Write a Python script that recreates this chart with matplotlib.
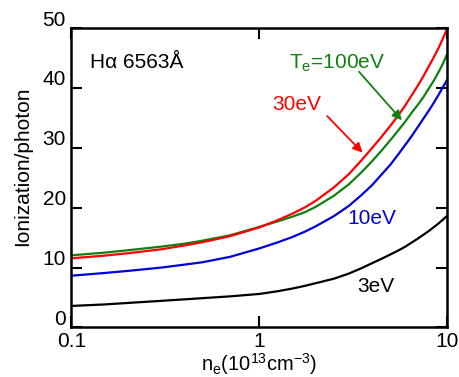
import matplotlib
matplotlib.use('Agg')
import matplotlib.pyplot as plt
import matplotlib.transforms as mtransforms

plt.rcParams['font.family'] = ['Liberation Sans', 'DejaVu Sans']

# Daten
ne = [0.1, 0.15, 0.2, 0.3, 0.4, 0.5, 0.7, 1, 1.25, 1.5, 1.75, 2, 2.5, 3, 3.5, 4,
      4.5, 5, 5.5, 6, 6.5, 7, 7.5, 8, 8.5, 9, 9.5, 10]
te_3 = [3.6, 3.85, 4.1, 4.45, 4.7, 4.9, 5.2, 5.6, 6.05, 6.5, 6.95, 7.4, 8.15, 9.0, 9.9, 10.75,
        11.5, 12.2, 12.85, 13.5, 14.2, 14.85, 15.5, 16.1, 16.75, 17.35, 18.0, 18.6]
te_10 = [8.65, 9.1, 9.45, 10.0, 10.5, 10.9, 11.8, 13.2, 14.2, 15.1, 16.0, 16.9, 18.6, 20.3, 22.1, 23.8,
         25.6, 27.2, 28.9, 30.5, 32.0, 33.5, 34.9, 36.2, 37.5, 38.8, 40.1, 41.3]
te_30 = [11.55, 12.0, 12.4, 13.05, 13.7, 14.25, 15.25, 16.7, 17.9, 19.0, 20.05, 21.15, 23.4, 25.6, 27.9, 30.0,
         31.9, 33.7, 35.4, 37.1, 38.8, 40.4, 42.0, 43.6, 45.1, 46.6, 48.2, 49.8]
te_100 = [12.05, 12.5, 12.9, 13.5, 14.0, 14.5, 15.4, 16.8, 17.7, 18.5, 19.25, 20.15, 22.0, 23.9, 25.9, 27.8,
          29.6, 31.3, 32.9, 34.4, 35.9, 37.2, 38.5, 39.9, 41.2, 42.6, 44.0, 45.6]

fig = plt.figure(figsize=(4.6, 3.77), dpi=100)
ax = fig.add_axes([0.1554, 0.1313, 0.8163, 0.7944])

ax.plot(ne, te_3, color='black', lw=1.6)
ax.plot(ne, te_10, color='#0000dd', lw=1.6)
ax.plot(ne, te_100, color='#108010', lw=1.6)
ax.plot(ne, te_30, color='#ff0000', lw=1.6)

ax.set_xscale('log')
ax.set_xlim(0.1, 10)
ax.set_ylim(0, 50)
ax.set_xticks([0.1, 1, 10])
ax.set_xticklabels(['0.1', '1', '10'])
ax.xaxis.set_minor_locator(matplotlib.ticker.NullLocator())
ax.set_yticks([0, 10, 20, 30, 40, 50])

fs = 15
ax.tick_params(direction='in', length=8, width=1.5, labelsize=fs,
               top=True, right=True, pad=4)
ax.tick_params(axis='x', pad=3)
for s in ax.spines.values():
    s.set_linewidth(1.8)

# y-Beschriftungen etwas nach oben verschoben wie im Original
offset = mtransforms.ScaledTranslation(0, 0.1, fig.dpi_scale_trans)
for lab in ax.get_yticklabels():
    lab.set_transform(lab.get_transform() + offset)

ax.set_ylabel('Ionization/photon', fontsize=fs)
ax.yaxis.set_label_coords(-0.105, 0.54)
ax.set_xlabel(r'$\mathregular{n_e(10^{13}cm^{-3})}$', fontsize=14.5, labelpad=0)

ax.text(0.05, 0.865, 'H\u03b1 6563\u00c5', transform=ax.transAxes, fontsize=fs)
ax.text(0.58, 0.865, r'$\mathregular{T_e}$=100eV', transform=ax.transAxes,
        fontsize=fs, color='#108010')
ax.text(0.535, 0.725, '30eV', transform=ax.transAxes, fontsize=fs, color='#ff0000')
ax.text(0.735, 0.345, '10eV', transform=ax.transAxes, fontsize=fs, color='#0000dd')
ax.text(0.76, 0.12, '3eV', transform=ax.transAxes, fontsize=fs, color='black')

# Pfeile
ax.annotate('', xy=(3.55, 29.2), xytext=(2.3, 35.3),
            arrowprops=dict(arrowstyle='-|>', color='#ff0000', lw=1.3,
                            mutation_scale=14, shrinkA=0, shrinkB=0))
ax.annotate('', xy=(5.75, 34.6), xytext=(3.4, 42.7),
            arrowprops=dict(arrowstyle='-|>', color='#108010', lw=1.3,
                            mutation_scale=14, shrinkA=0, shrinkB=0))

fig.savefig('out.png', dpi=100)
